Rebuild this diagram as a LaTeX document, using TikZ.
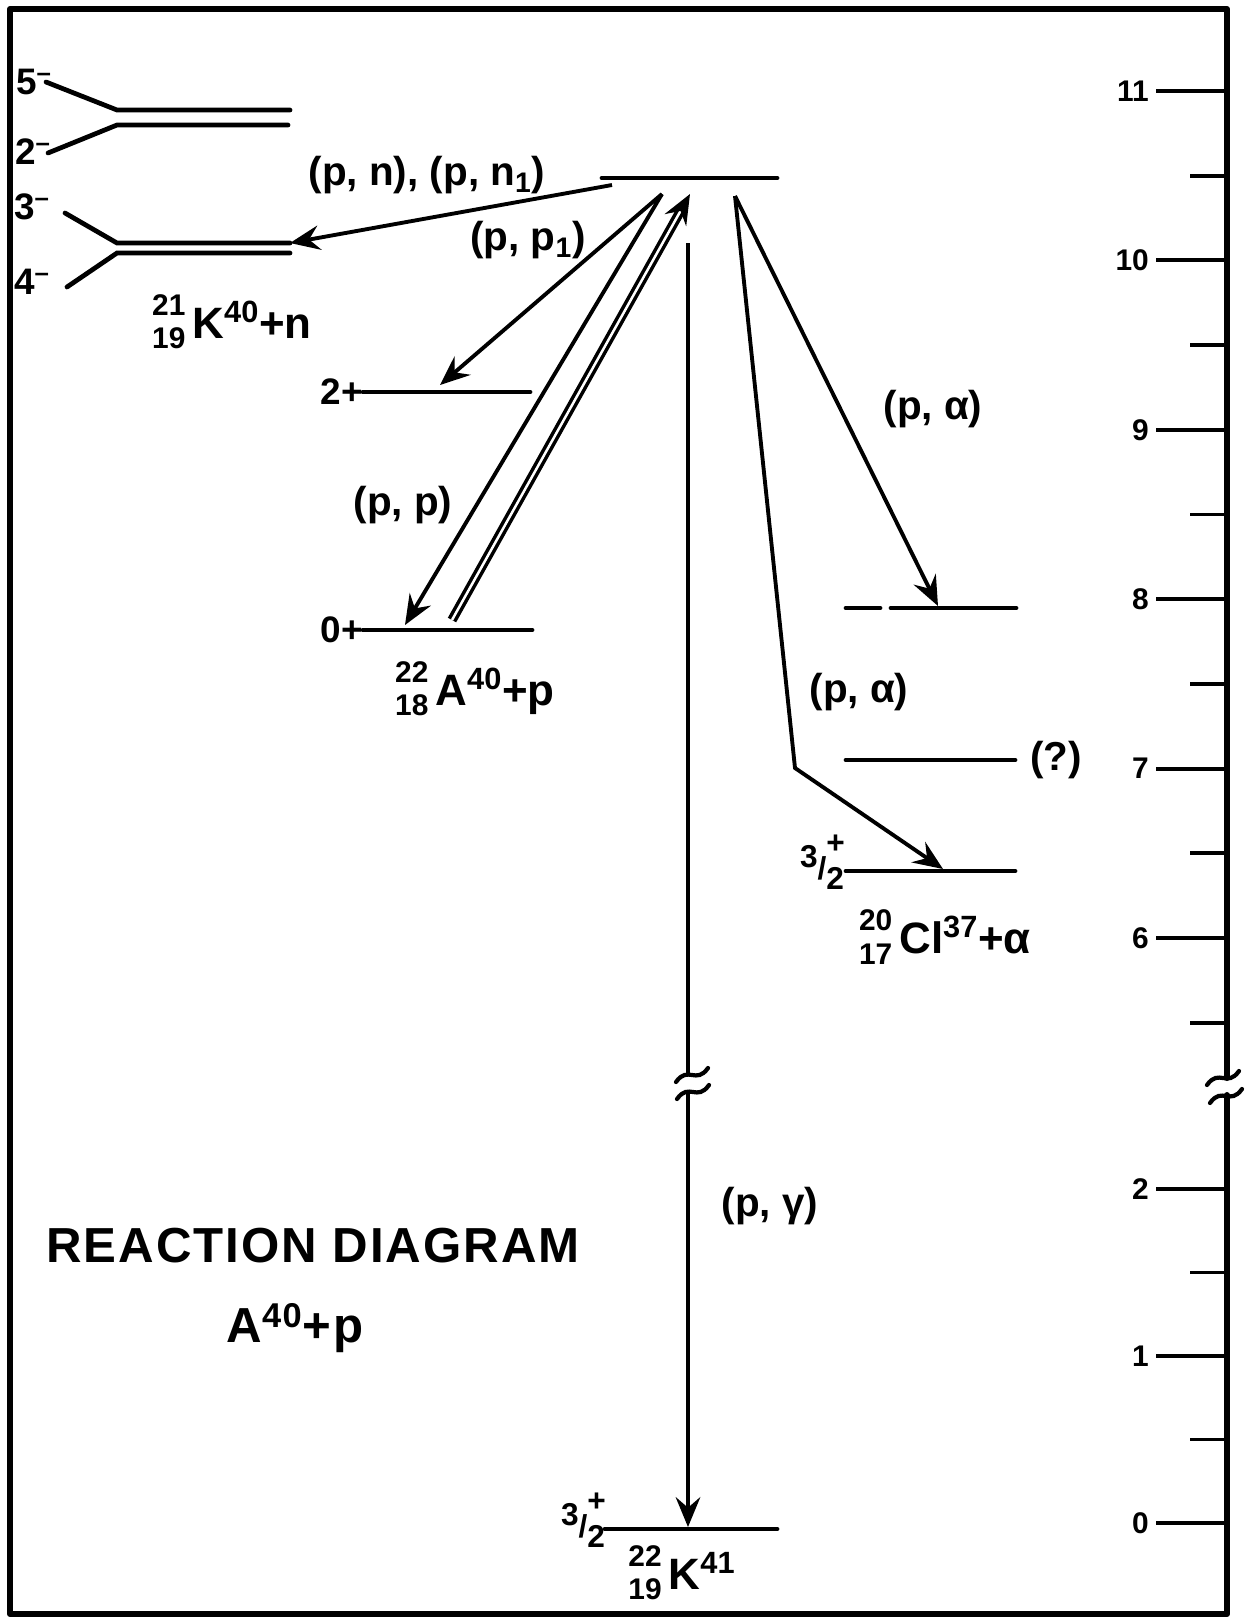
\documentclass[tikz,border=0pt]{standalone}
\usepackage{fontspec}
\setmainfont{Liberation Sans}
\usetikzlibrary{arrows.meta, calc}

\newcommand{\nucl}[4]{{\fontsize{17}{17}\selectfont\rlap{\raisebox{0.75em}{#1}}\raisebox{-0.36em}{#2}}\kern4pt #3\textsuperscript{#4}}
\newcommand{\halfspin}[2]{{\fontsize{18}{18}\selectfont\raisebox{0.45em}{#1}\raisebox{0.05em}{/}\rlap{\raisebox{0.9em}{#2}}\raisebox{-0.25em}{2}}}

\tikzset{
    frameline/.style={line width=3.4pt, line cap=round, line join=round},
    lvl/.style={line width=2.7pt, line cap=round},
    rxn/.style={line width=2.2pt, -{Stealth[length=17pt, width=14pt, inset=6pt]}},
    rxnplain/.style={line width=2.2pt},
    rxnin/.style={double, double distance=1.4pt, line width=2pt, -{Stealth[length=17pt, width=14pt, inset=6pt]}},
    rxnlab/.style={font=\fontsize{23}{25}\selectfont\bfseries, inner sep=0pt},
    jlab/.style={font=\fontsize{21}{23}\selectfont\bfseries, inner sep=0pt},
    nuclab/.style={font=\fontsize{25}{27}\selectfont\bfseries, inner sep=0pt},
    titlelab/.style={font=\fontsize{28}{30}\selectfont\bfseries\addfontfeature{LetterSpace=4}, inner sep=0pt},
    majtick/.style={line width=2.2pt},
    mintick/.style={line width=2.2pt},
    ticklab/.style={font=\fontsize{17}{19}\selectfont\bfseries, anchor=east, inner sep=3pt},
    brk/.style={line width=2.4pt, line cap=round},
    zigbreak/.pic={
        \draw[brk] (-16,7) .. controls (-4,-10) and (4,10) .. (16,-7);
    },
}

\begin{document}
\begin{tikzpicture}[x=0.02cm, y=-0.02cm]
    \useasboundingbox (0,0) rectangle (1249,1617);

    % frame, its right side is the energy axis
    \draw[frameline] (1227,1078) -- (1227,9) -- (10,9) -- (10,1614) -- (1227,1614) -- (1227,1095);
    \pic at (1223,1078) {zigbreak};
    \pic at (1226,1096) {zigbreak};

    % axis ticks (MeV)
    \foreach \e in {6,...,11}{
        \coordinate (ax\e) at (1227,{91+(11-\e)*169.4});
        \draw[majtick] (ax\e) -- ++(-71,0) node[ticklab] {\e};
    }
    \foreach \e in {5.5,6.5,...,10.5}
        \draw[mintick] (1227,{91+(11-\e)*169.4}) -- ++(-37,0);
    \foreach \e in {0,1,2}{
        \coordinate (bx\e) at (1227,{1523-\e*167});
        \draw[majtick] (bx\e) -- ++(-71,0) node[ticklab] {\e};
    }
    \foreach \e in {0.5,1.5}
        \draw[mintick] (1227,{1523-\e*167}) -- ++(-37,0);

    % compound level
    \coordinate (cn-l) at (602,178);
    \coordinate (cn-r) at (777,178);
    \draw[lvl] (cn-l) -- (cn-r);
    \coordinate (cn-n) at (612,185);
    \coordinate (cn-p) at (662,194);
    \coordinate (cn-in) at (690,194);
    \coordinate (cn-g) at (688,243);
    \coordinate (cn-a) at (735,196);

    % K40 + n levels
    \coordinate (k5a) at (46,82);  \coordinate (k5b) at (117,110); \coordinate (k5c) at (290,110);
    \coordinate (k2a) at (48,153); \coordinate (k2b) at (117,125); \coordinate (k2c) at (288,125);
    \coordinate (k3a) at (65,213); \coordinate (k3b) at (117,243); \coordinate (k3c) at (290,243);
    \coordinate (k4a) at (67,287); \coordinate (k4b) at (117,253); \coordinate (k4c) at (290,253);
    \draw[lvl] (k5a) -- (k5b) -- (k5c);
    \draw[lvl] (k2a) -- (k2b) -- (k2c);
    \draw[lvl] (k3a) -- (k3b) -- (k3c);
    \draw[lvl] (k4a) -- (k4b) -- (k4c);
    \node[jlab] (j5) at (34,82) {5\textsuperscript{–}};
    \node[jlab] (j2) at (33,152) {2\textsuperscript{–}};
    \node[jlab] (j3) at (32,207) {3\textsuperscript{–}};
    \node[jlab] (j4) at (32,282) {4\textsuperscript{–}};
    \node[nuclab] (k40n) at (232,322) {\nucl{21}{19}{K}{40}+n};

    % A40 + p levels
    \coordinate (a2-l) at (363,392);  \coordinate (a2-r) at (530,392);
    \coordinate (a0-l) at (363,630);  \coordinate (a0-r) at (532,630);
    \draw[lvl] (a2-l) -- (a2-r);
    \draw[lvl] (a0-l) -- (a0-r);
    \node[jlab, anchor=east] (j2p) at (a2-l) {2+};
    \node[jlab, anchor=east] (j0p) at (a0-l) {0+};
    \node[nuclab] (a40p) at (475,689) {\nucl{22}{18}{A}{40}+p};
    \coordinate (a2-hit) at (440,385);
    \coordinate (a0-hit) at (405,625);
    \coordinate (a0-out) at (452,620);

    % Cl37 + alpha levels
    \coordinate (c8-l) at (846,608); \coordinate (c8-m) at (880,608);
    \coordinate (c8-n) at (891,608); \coordinate (c8-r) at (1016,608);
    \coordinate (c7-l) at (846,760); \coordinate (c7-r) at (1015,760);
    \coordinate (c6-l) at (846,871); \coordinate (c6-r) at (1015,871);
    \draw[lvl] (c8-l) -- (c8-m);
    \draw[lvl] (c8-n) -- (c8-r);
    \draw[lvl] (c7-l) -- (c7-r);
    \draw[lvl] (c6-l) -- (c6-r);
    \node[rxnlab, anchor=west] (qm) at (1030,760) {(?)};
    \node[jlab] (j32c) at (822,862) {\halfspin{3}{+}};
    \node[nuclab] (cl37) at (945,937) {\nucl{20}{17}{Cl}{37}+α};
    \coordinate (c8-hit) at (938,606);
    \coordinate (c6-hit) at (943,869);
    \coordinate (kink) at (795,768);

    % K41 ground state
    \coordinate (g-l) at (605,1529); \coordinate (g-r) at (777,1529);
    \draw[lvl] (g-l) -- (g-r);
    \node[jlab] (j32k) at (583,1520) {\halfspin{3}{+}};
    \node[nuclab] (k41) at (682,1573) {\nucl{22}{19}{K}{41}};
    \coordinate (g-hit) at (688,1527);
    \coordinate (gbrk1) at (688,1076);
    \coordinate (gbrk2) at (688,1092);

    % reactions
    \draw[rxn] (cn-n) -- (k3c);
    \draw[rxn] (cn-p) -- (a2-hit);
    \draw[rxn] (cn-p) -- (a0-hit);
    \draw[rxnin] (a0-out) -- (cn-in);
    \draw[rxnplain] (cn-g) -- (gbrk1);
    \draw[rxn] (gbrk2) -- (g-hit);
    \pic at (692,1075) {zigbreak};
    \pic at (693,1092) {zigbreak};
    \draw[rxn] (cn-a) -- (c8-hit);
    \draw[rxn] (cn-a) -- (kink) -- (c6-hit);

    \node[rxnlab] (l-pn) at (427,175) {(p, n), (p, n\textsubscript{1})};
    \node[rxnlab] (l-pp1) at (528,240) {(p, p\textsubscript{1})};
    \node[rxnlab] (l-pp) at (403,505) {(p, p)};
    \node[rxnlab] (l-pa1) at (933,409) {(p, α)};
    \node[rxnlab] (l-pa2) at (859,692) {(p, α)};
    \node[rxnlab] (l-pg) at (770,1206) {(p, γ)};

    % title
    \node[titlelab] (title) at (313,1246) {REACTION DIAGRAM};
    \node[titlelab] (sub) at (295,1328) {A\textsuperscript{40}+p};
\end{tikzpicture}
\end{document}
